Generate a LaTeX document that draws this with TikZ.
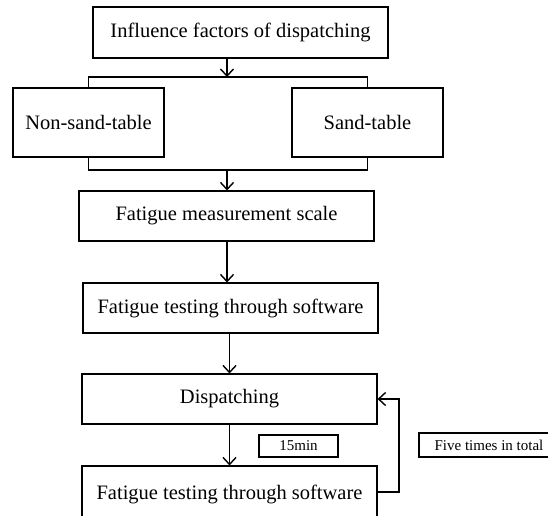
\documentclass[tikz,border=0pt]{standalone}
\usepackage{fontspec}
\setmainfont{Liberation Serif}
\usetikzlibrary{arrows.meta}
\begin{document}
\begin{tikzpicture}[x=1pt,y=-1pt,
 box/.style={draw,line width=1.1pt,rectangle,inner sep=0pt,font=\fontsize{20.5}{23}\selectfont},
 lbl/.style={draw,line width=1.1pt,rectangle,inner sep=0pt,font=\fontsize{15}{17}\selectfont},
 arr/.style={line width=1.4pt,-{Straight Barb[length=7pt,width=13pt,line width=1.4pt]}},
 ln/.style={line width=1.4pt}]
\useasboundingbox (0,0) rectangle (548,515);
\clip (0,0) rectangle (548,515);
\node[box,minimum width=295pt,minimum height=51pt] (b1) at (240.5,32.5) {Influence factors of dispatching};
\node[box,minimum width=151pt,minimum height=69pt] (ns) at (88.5,122.5) {Non-sand-table};
\node[box,minimum width=151pt,minimum height=69pt] (st) at (367.5,122.5) {Sand-table};
\node[box,minimum width=295pt,minimum height=50pt] (sc) at (226.5,216) {Fatigue measurement scale};
\node[box,minimum width=295pt,minimum height=50pt] (ft1) at (230.5,308) {Fatigue testing through software};
\node[box,minimum width=295pt,minimum height=50pt] (dp) at (229.5,399) {Dispatching};
\node[box,minimum width=295pt,minimum height=56pt] (ft2) at (229.5,494) {Fatigue testing through software};
\node[lbl,minimum width=79pt,minimum height=22pt] (m15) at (298.5,446) {15min};
\node[lbl,minimum width=140pt,minimum height=24pt] (five) at (489,445) {Five times in total};
\coordinate (j1) at (227,77);
\coordinate (j2) at (227,170);
\coordinate (fb) at (399,492);
\draw[arr] (b1.south -| j1) -- (j1);
\draw[ln] (ns.north) -- (ns.north |- j1) -- (st.north |- j1) -- (st.north);
\draw[ln] (ns.south) -- (ns.south |- j2) -- (st.south |- j2) -- (st.south);
\draw[arr] (j2) -- (sc.north -| j2);
\draw[arr] (sc.south -| j2) -- (ft1.north -| j2);
\draw[arr] (ft1.south -| dp.north) -- (dp.north);
\draw[arr] (dp.south) -- (ft2.north);
\draw[arr] (ft2.east |- fb) -- (fb) |- (dp.east);
\end{tikzpicture}
\end{document}
